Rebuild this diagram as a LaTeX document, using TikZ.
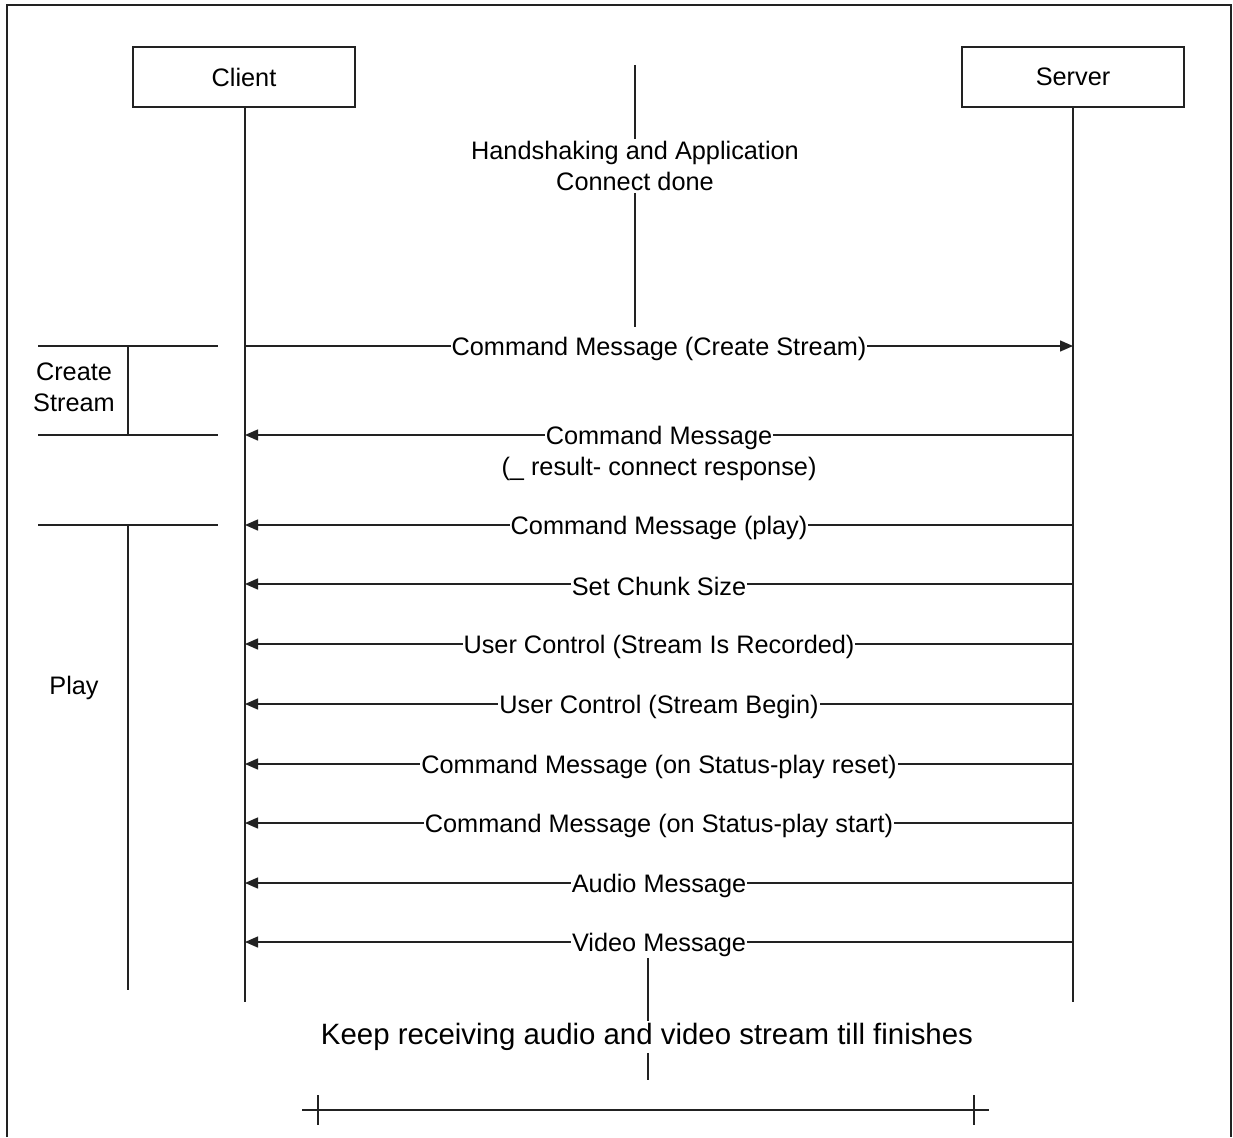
\documentclass[tikz,border=0pt]{standalone}
\usepackage{fontspec}
\setmainfont{Liberation Sans}
\usetikzlibrary{arrows.meta}
\definecolor{ink}{HTML}{222222}
\tikzset{
  base/.style={draw=ink, line width=1.4pt},
  actor/.style={base, minimum width=222pt, minimum height=60pt, inner sep=0pt,
    font=\fontsize{25.3}{31}\selectfont},
  msg/.style={base, -{Triangle[length=13pt, width=11pt]}},
  lbl/.style={fill=white, inner sep=1pt, yshift=-2.5pt, font=\fontsize{25.3}{31}\selectfont},
  note/.style={inner sep=2pt, align=center, font=\fontsize{25.3}{31}\selectfont},
  bignote/.style={inner sep=2pt, font=\fontsize{29.4}{34}\selectfont},
}
\begin{document}
\begin{tikzpicture}[x=1pt, y=-1pt]
\useasboundingbox (0,0) rectangle (1233,1137);
% outer frame (open at the bottom edge)
\draw[base] (7,1137) -- (7,5) -- (1231,5) -- (1231,1137);

% actors and lifelines
\node[actor] (client) at (244,77) {Client};
\node[actor] (server) at (1073,77) {Server};
\coordinate (cend) at (245,1002);
\coordinate (send) at (1073,1002);
\draw[base] (client.south -| cend) -- (cend);
\draw[base] (server.south -| send) -- (send);

% handshake note
\node[note] (hs) at (635,166) {Handshaking and Application\\Connect done};
\coordinate (hstop) at (635,65);
\coordinate (hsbot) at (635,327);
\draw[base] (hstop) -- (hs.north);
\draw[base] (hs.south) -- (hsbot);

% phase brackets
\coordinate (cs1a) at (38,346);  \coordinate (cs1b) at (218,346);
\coordinate (cs2a) at (38,435);  \coordinate (cs2b) at (218,435);
\coordinate (cst) at (128,346);  \coordinate (csb) at (128,435);
\draw[base] (cs1a) -- (cs1b);
\draw[base] (cs2a) -- (cs2b);
\draw[base] (cst) -- (csb);
\node[note] (cslbl) at (74,387) {Create\\Stream};

\coordinate (pla) at (38,525);  \coordinate (plb) at (218,525);
\coordinate (plt) at (128,525); \coordinate (plbot) at (128,990);
\draw[base] (pla) -- (plb);
\draw[base] (plt) -- (plbot);
\node[note] (pllbl) at (74,688) {Play};

% messages
\coordinate (c1) at (245,346); \coordinate (s1) at (1073,346);
\draw[msg] (c1) -- node[lbl] (m1) {Command Message (Create Stream)} (s1);

\coordinate (c2) at (245,435); \coordinate (s2) at (1073,435);
\draw[msg] (s2) -- node[lbl] (m2) {Command Message} (c2);
\node[lbl, anchor=north, yshift=-16pt] (m2b) at (m2.center) {(\_ result- connect response)};

\foreach \y/\t/\n in {525/{Command Message (play)}/m3,
                      584/{Set Chunk Size}/m4,
                      644/{User Control (Stream Is Recorded)}/m5,
                      704/{User Control (Stream Begin)}/m6,
                      764/{Command Message (on Status-play reset)}/m7,
                      823/{Command Message (on Status-play start)}/m8,
                      883/{Audio Message}/m9,
                      942/{Video Message}/m10}{
  \coordinate (c-\n) at (245,\y);
  \coordinate (s-\n) at (1073,\y);
  \draw[msg] (s-\n) -- node[lbl] (\n) {\t} (c-\n);
}

% closing note
\node[bignote] (keep) at (647,1037) {Keep receiving audio and video stream till finishes};
\coordinate (ktop) at (648,958);
\coordinate (kbot) at (648,1080);
\draw[base] (ktop) -- (keep.north -| ktop);
\draw[base] (keep.south -| kbot) -- (kbot);

% timeline
\coordinate (tl) at (302,1110); \coordinate (tr) at (989,1110);
\draw[base] (tl) -- (tr);
\coordinate (t1a) at (318,1095); \coordinate (t1b) at (318,1125);
\coordinate (t2a) at (974,1095); \coordinate (t2b) at (974,1125);
\draw[base] (t1a) -- (t1b);
\draw[base] (t2a) -- (t2b);
\end{tikzpicture}
\end{document}
